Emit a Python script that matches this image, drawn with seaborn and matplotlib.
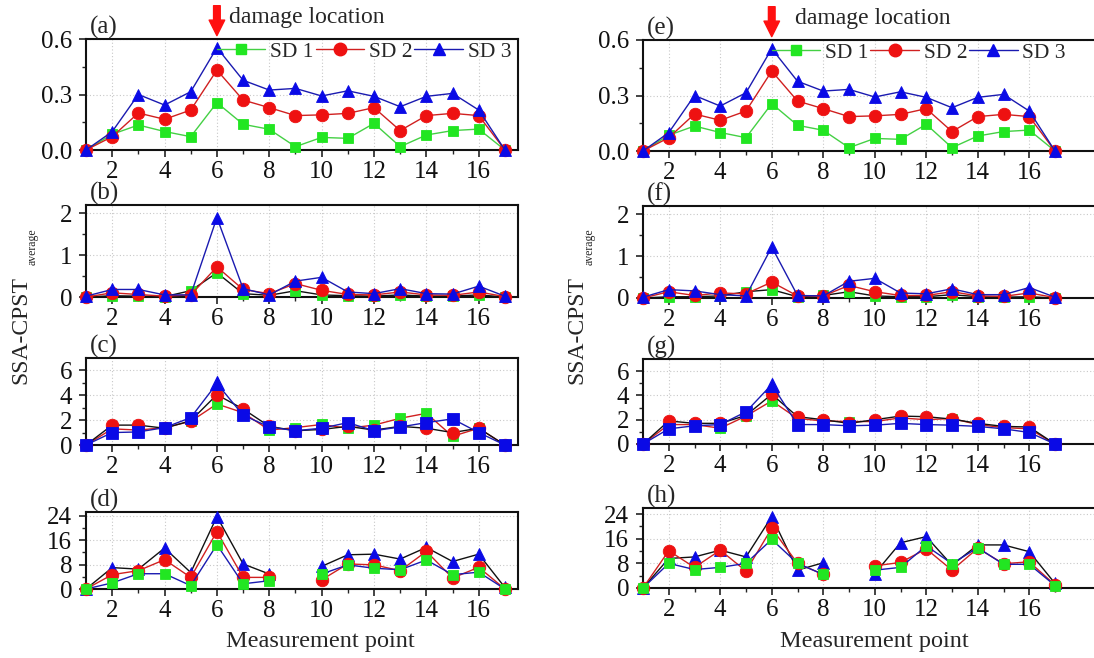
import numpy as np
import pandas as pd
import matplotlib
matplotlib.use("Agg")
import matplotlib.pyplot as plt
from matplotlib.lines import Line2D
import matplotlib.transforms as mtransforms
import seaborn as sns

nan = np.nan

# Measurement points along the beam
points = np.arange(1, 18)
x_tick_labels = [2, 4, 6, 8, 10, 12, 14, 16]
series_names = ["SD 1", "SD 2", "SD 3"]
damage_point = 6

# Panel (a)
a_sd1 = [0, 0.085, 0.135, 0.10, 0.072, 0.256, 0.139, 0.112, 0.018, 0.068, 0.063, 0.144, 0.018, 0.081, 0.105, 0.113, 0]
a_sd2 = [0, 0.072, 0.20, 0.166, 0.216, 0.432, 0.27, 0.229, 0.186, 0.19, 0.198, 0.229, 0.105, 0.186, 0.198, 0.186, 0]
a_sd3 = [0, 0.099, 0.30, 0.243, 0.315, 0.553, 0.377, 0.324, 0.333, 0.292, 0.32, 0.29, 0.234, 0.29, 0.306, 0.216, 0]
# Panel (b)
b_sd1 = [0, 0.03, 0.02, 0.01, 0.15, 0.58, 0.08, 0.04, 0.15, 0.05, 0.03, 0.02, 0.05, 0.02, 0.02, 0.05, 0]
b_sd2 = [0, 0.10, 0.06, 0.02, 0.05, 0.72, 0.18, 0.08, 0.32, 0.16, 0.06, 0.05, 0.12, 0.05, 0.04, 0.12, 0.01]
b_sd3 = [0.02, 0.18, 0.18, 0.05, 0.05, 1.90, 0.20, 0.05, 0.38, 0.47, 0.12, 0.08, 0.20, 0.08, 0.07, 0.26, 0.02]
# Panel (c)
c_sd1 = [0, 1.3, 1.2, 1.4, 1.9, 3.3, 2.6, 1.2, 1.4, 1.65, 1.35, 1.6, 2.15, 2.55, 0.7, 1.35, 0]
c_sd2 = [0, 1.6, 1.6, 1.35, 1.95, 4.05, 2.9, 1.5, 1.15, 1.25, 1.5, 1.2, 1.5, 1.35, 1.0, 1.35, 0]
c_sd3 = [0, 1.0, 1.05, 1.4, 2.2, 4.95, 2.4, 1.45, 1.15, 1.35, 1.8, 1.15, 1.45, 1.8, 2.1, 1.0, 0]
# Panel (d)
d_sd1 = [0, 2.0, 5.0, 5.0, 1.1, 14.5, 1.7, 2.7, nan, 4.9, 7.9, 6.8, 6.3, 9.5, 4.7, 5.5, 0]
d_sd2 = [0, 4.7, 6.0, 9.6, 3.8, 18.8, 3.8, 3.8, nan, 3.0, 8.2, 7.9, 6.0, 12.3, 3.6, 7.1, 0]
d_sd3 = [0, 7.0, 6.5, 13.4, 5.4, 23.7, 8.2, 4.9, nan, 7.4, 11.2, 11.4, 9.8, 13.6, 9.0, 11.4, 0.5]
# Panel (e)
e_sd1 = [0, 0.085, 0.135, 0.10, 0.072, 0.256, 0.139, 0.112, 0.018, 0.068, 0.063, 0.144, 0.018, 0.081, 0.105, 0.113, 0]
e_sd2 = [0, 0.072, 0.20, 0.166, 0.216, 0.432, 0.27, 0.229, 0.186, 0.19, 0.198, 0.229, 0.105, 0.186, 0.198, 0.186, 0]
e_sd3 = [0, 0.099, 0.30, 0.243, 0.315, 0.553, 0.377, 0.324, 0.333, 0.292, 0.32, 0.29, 0.234, 0.29, 0.306, 0.216, 0]
# Panel (f)
f_sd1 = [0, 0.03, 0.03, 0.05, 0.15, 0.20, 0.03, 0.06, 0.15, 0.05, 0.03, 0.03, 0.08, 0.03, 0.02, 0.03, 0]
f_sd2 = [0, 0.15, 0.06, 0.12, 0.10, 0.38, 0.05, 0.05, 0.30, 0.15, 0.06, 0.06, 0.15, 0.05, 0.04, 0.12, 0.01]
f_sd3 = [0.02, 0.20, 0.17, 0.08, 0.05, 1.22, 0.06, 0.05, 0.40, 0.47, 0.12, 0.10, 0.22, 0.08, 0.08, 0.25, 0.02]
# Panel (g)
g_sd1 = [0, 1.6, 1.6, 1.3, 2.3, 3.55, 2.1, 1.9, 1.85, 1.85, 2.15, 2.0, 2.1, 1.6, 1.35, 1.25, 0]
g_sd2 = [0, 1.9, 1.7, 1.7, 2.35, 4.1, 2.25, 2.0, 1.7, 2.0, 2.3, 2.25, 2.05, 1.7, 1.45, 1.4, 0]
g_sd3 = [0, 1.25, 1.5, 1.6, 2.65, 4.9, 1.6, 1.6, 1.5, 1.55, 1.7, 1.6, 1.55, 1.45, 1.25, 0.95, 0]
# Panel (h)
h_sd1 = [0, 8.0, 6.0, 6.7, 8.0, 15.8, 8.0, 4.4, nan, 5.8, 6.7, 13.7, 7.9, 13.1, 7.7, 7.7, 0.8]
h_sd2 = [0, 12.1, 6.7, 12.3, 5.5, 19.4, 8.0, 4.4, nan, 7.2, 8.3, 12.7, 5.8, 12.9, 7.9, 8.5, 1.0]
h_sd3 = [0, 9.6, 10.1, 12.3, 10.1, 23.2, 5.8, 8.2, nan, 4.7, 14.7, 16.7, 7.4, 14.0, 14.0, 11.8, 1.5]

# ---------------------------------------------------------------- styling
sns.set_theme(style="ticks")
plt.rcParams["font.family"] = ["Liberation Serif", "DejaVu Serif"]

GREEN, RED, BLUE, BLACK = "#22e622", "#ee1111", "#0a0ae6", "#111111"
GREEN_LINE, RED_LINE, BLUE_LINE = "#44d044", "#d02020", "#1a1ab0"
MARKERS = {"SD 1": ("s", GREEN, 7.5), "SD 2": ("o", RED, 9), "SD 3": ("^", BLUE, 9)}
TICK_SIZE = 18

W, H = 1094, 658
fig = plt.figure(figsize=(W / 100, H / 100), dpi=100)


def add_axes_px(left, right, top, bottom):
    return fig.add_axes([left / W, 1 - bottom / H, (right - left) / W, (bottom - top) / H])


def draw_series(ax, values, name, line_color, z, marker_override=None, skip_peak=False):
    y = np.asarray(values, dtype=float)
    seg = np.cumsum(np.isnan(y))
    df = pd.DataFrame({"point": points, "value": y, "seg": seg}).dropna().reset_index(drop=True)
    marker, face, ms = MARKERS[name]
    if marker_override is not None:
        marker, ms = marker_override
    extra = {}
    if skip_peak:
        peak_pos = int(df["value"].values.argmax())
        extra["markevery"] = [k for k in range(len(df)) if k != peak_pos]
    sns.lineplot(data=df, x="point", y="value", units="seg", estimator=None,
                 ax=ax, color=line_color, linewidth=1.0, marker=marker,
                 markersize=ms, markerfacecolor=face, markeredgecolor=face,
                 markeredgewidth=0.6, zorder=z, clip_on=False, legend=False, **extra)
    return df


def style_axis(ax, ylim, yticks, yminor, xmax, label):
    ax.set_xlim(1, xmax)
    ax.set_ylim(*ylim)
    ax.set_xticks(x_tick_labels)
    ax.set_xticks(points, minor=True)
    ax.set_yticks(yticks)
    ax.set_yticks(yminor, minor=True)
    ax.set_xlabel("")
    ax.set_ylabel("")
    ax.grid(True, which="major", color="#c8c8c8", linestyle=(0, (1, 2)), linewidth=0.8)
    ax.tick_params(axis="both", which="major", direction="out", length=5, width=1.1,
                   labelsize=TICK_SIZE, pad=3, colors=BLACK)
    ax.tick_params(axis="y", which="major", pad=5)
    ax.tick_params(axis="both", which="minor", direction="out", length=3, width=1.0)
    for sp in ax.spines.values():
        sp.set_visible(True)
        sp.set_linewidth(1.5)
        sp.set_color(BLACK)
    ax.text(0.008, 1.0, label, transform=ax.transAxes, ha="left", va="bottom", fontsize=18)


def top_extras(ax, text_x):
    trans = mtransforms.blended_transform_factory(ax.transData, ax.transAxes)
    ax.annotate("", xy=(damage_point, 1.03), xycoords=trans,
                xytext=(damage_point, 1.30), textcoords=trans,
                arrowprops=dict(arrowstyle="simple,head_length=0.7,head_width=0.7,tail_width=0.3",
                                color="#ff1010", mutation_scale=16, shrinkA=0, shrinkB=0),
                annotation_clip=False)
    ax.text(text_x, 1.19, "damage location", transform=trans, ha="left", va="center", fontsize=17)
    handles = [
        Line2D([], [], color=GREEN_LINE, lw=1.0, marker="s", ms=7.5, mfc=GREEN, mec=GREEN),
        Line2D([], [], color=RED_LINE, lw=1.0, marker="o", ms=9, mfc=RED, mec=RED),
        Line2D([], [], color=BLUE_LINE, lw=1.0, marker="^", ms=9, mfc=BLUE, mec=BLUE),
    ]
    ax.legend(handles, series_names, loc="center left", ncol=3, frameon=False,
              bbox_to_anchor=(damage_point, 0.885), bbox_transform=trans,
              fontsize=15.5, handlelength=2.25, handletextpad=0.22, columnspacing=0.1,
              borderpad=0, borderaxespad=0, numpoints=1)


# Axes boxes (pixel edges)
left_x = (86, 518)
right_x = (643, 1100)
rows_left = [(39, 150), (205, 297), (358, 445), (512, 589)]
rows_right = [(40, 151), (206, 298), (359, 444), (508, 588)]
xmax_left = 17.5
xmax_right = 1 + (right_x[1] - right_x[0]) / ((1055 - 643) / 16)

columns = [
    (left_x, rows_left, xmax_left, ["(a)", "(b)", "(c)", "(d)"],
     [(a_sd1, a_sd2, a_sd3), (b_sd1, b_sd2, b_sd3), (c_sd1, c_sd2, c_sd3), (d_sd1, d_sd2, d_sd3)],
     [(0, 0.6), (0, 2.2), (0, 7), (0, 25.2)], 6.45),
    (right_x, rows_right, xmax_right, ["(e)", "(f)", "(g)", "(h)"],
     [(e_sd1, e_sd2, e_sd3), (f_sd1, f_sd2, f_sd3), (g_sd1, g_sd2, g_sd3), (h_sd1, h_sd2, h_sd3)],
     [(0, 0.6), (0, 2.2), (0, 7), (0, 26)], 6.9),
]

yticks = [[0, 0.3, 0.6], [0, 1, 2], [0, 2, 4, 6], [0, 8, 16, 24]]
yminor = [[0.15, 0.45], [0.5, 1.5], [1, 3, 5], [4, 12, 20]]
yfmt = ["{:.1f}", "{:.0f}", "{:.0f}", "{:.0f}"]

# line colours per row: SD1, SD2, SD3
row_lines = [
    (GREEN_LINE, RED_LINE, BLUE_LINE),
    (BLACK, RED_LINE, BLUE_LINE),
    (RED_LINE, BLACK, BLUE_LINE),
    (BLUE_LINE, RED_LINE, BLACK),
]
# drawing order (z) per row: SD1, SD2, SD3
row_z = [(3, 4, 5), (3, 4, 5), (3, 4, 5), (5, 4, 3)]

for (xl, rows, xmax, labels, datasets, ylims, text_x) in columns:
    for i, (top, bottom) in enumerate(rows):
        ax = add_axes_px(xl[0], xl[1], top, bottom)
        s1, s2, s3 = datasets[i]
        l1, l2, l3 = row_lines[i]
        z1, z2, z3 = row_z[i]
        draw_series(ax, s1, "SD 1", l1, z1)
        draw_series(ax, s2, "SD 2", l2, z2)
        if i == 2:
            # third series drawn with square symbols, the peak flagged by a triangle
            df3 = draw_series(ax, s3, "SD 3", l3, z3, marker_override=("s", 8.5), skip_peak=True)
            peak = df3.loc[[df3["value"].idxmax()]]
            sns.scatterplot(data=peak, x="point", y="value", ax=ax, marker="^", s=100,
                            color=BLUE, edgecolor=BLUE, zorder=z3 + 1, clip_on=False, legend=False)
        else:
            draw_series(ax, s3, "SD 3", l3, z3)
        style_axis(ax, ylims[i], yticks[i], yminor[i], xmax, labels[i])
        ax.set_yticklabels([yfmt[i].format(v) for v in yticks[i]])
        if i == 0:
            top_extras(ax, text_x)

# Shared y-axis titles: main text with a small subscript above it (rotated)
for main_x, sub_x in [(21, 33), (577, 590)]:
    fig.text(main_x / W, 1 - 384 / H, "SSA-CPST", rotation=90, ha="center", va="bottom",
             fontsize=17)
    fig.text(sub_x / W, 1 - 265 / H, "average", rotation=90, ha="center", va="bottom",
             fontsize=8.5)

fig.text(320 / W, 1 - 642 / H, "Measurement point", ha="center", va="center", fontsize=17.5)
fig.text(874 / W, 1 - 642 / H, "Measurement point", ha="center", va="center", fontsize=17.5)

fig.savefig("out.png", dpi=100, facecolor="white")
